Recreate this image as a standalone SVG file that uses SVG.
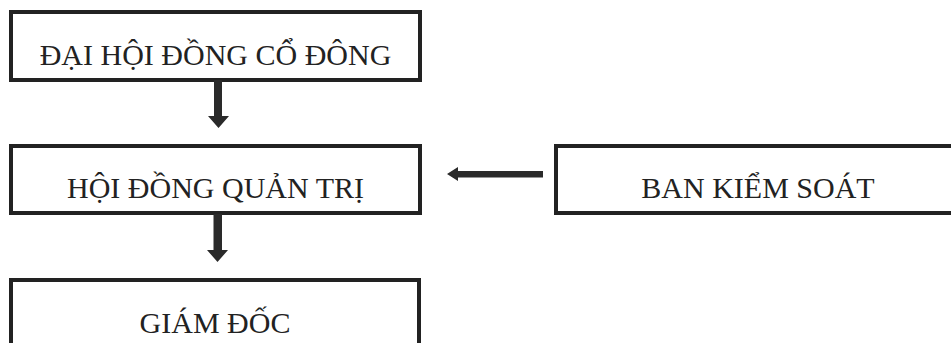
<svg xmlns="http://www.w3.org/2000/svg" width="951" height="343" viewBox="0 0 951 343">
<style>
.box{fill:#fff;stroke:#222;stroke-width:4}
.lbl{font-family:"Liberation Serif","Times New Roman",serif;font-size:30px;fill:#222;text-anchor:middle}
.arr{fill:#2a2a2a;stroke:none}
</style>
<rect width="951" height="343" fill="#fff"/>
<g id="node-dhdcd">
<rect class="box" x="11" y="12" width="409" height="68"/>
<text class="lbl" x="215.5" y="65">ĐẠI HỘI ĐỒNG CỔ ĐÔNG</text>
</g>
<g id="node-hdqt">
<rect class="box" x="11" y="146" width="409" height="67"/>
<text class="lbl" x="215.5" y="198">HỘI ĐỒNG QUẢN TRỊ</text>
</g>
<g id="node-bks">
<rect class="box" x="556" y="146" width="410" height="67"/>
<text class="lbl" x="758" y="198">BAN KIỂM SOÁT</text>
</g>
<g id="node-gd">
<rect class="box" x="11" y="280" width="408" height="80"/>
<text class="lbl" x="215" y="333">GIÁM ĐỐC</text>
</g>
<g id="connectors">
<path class="arr" d="M214,80 H222 V116 H229 L218.5,128 L208,116 H214 Z"/>
<path class="arr" d="M213.5,214 H222 V250 H228 L217.5,262 L207,250 H213.5 Z"/>
<path class="arr" d="M543,171 V177.5 H458 V181 L447,174 L458,167 V171 Z"/>
</g>
</svg>
